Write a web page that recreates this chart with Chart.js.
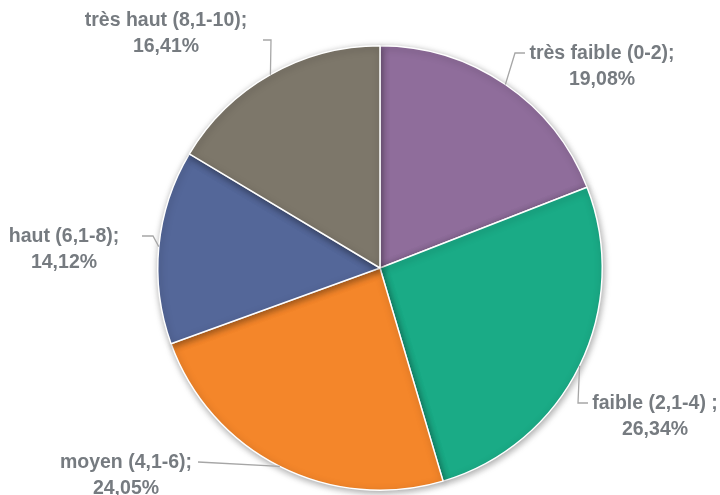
<!DOCTYPE html>
<html>
<head>
<meta charset="utf-8">
<script src="https://cdn.jsdelivr.net/npm/chart.js@4/dist/chart.umd.min.js"></script>
<style>
  html, body { margin: 0; padding: 0; background: #ffffff; }
  #pieChart { display: block; }
</style>
</head>
<body>
<canvas id="pieChart" width="720" height="495"></canvas>
<script>
var categories = ["très faible (0-2);", "faible (2,1-4) ;", "moyen (4,1-6);", "haut (6,1-8);", "très haut (8,1-10);"];
var values = [19.08, 26.34, 24.05, 14.12, 16.41];
var percentLabels = ["19,08%", "26,34%", "24,05%", "14,12%", "16,41%"];
var colors = ["#8f6d9b", "#1aab86", "#f4862a", "#546799", "#7d776a"];

// elbow of each leader line + text centre (relative layout only)
var labelLayout = [
    { elbow: [[515, 53], [525, 53]], text: [602, 54] },
    { elbow: [[578, 403], [588, 403]], text: [655, 404] },
    { elbow: [[198, 462]], text: [126, 463] },
    { elbow: [[153, 236], [142, 236]], text: [64, 237] },
    { elbow: [[271, 40], [263, 40]], text: [166, 21] }
];

var shadowPlugin = {
    id: 'shadow',
    beforeDatasetDraw: function (chart) {
        var ctx = chart.ctx;
        ctx.save();
        ctx.shadowColor = 'rgba(0,0,0,0.35)';
        ctx.shadowBlur = 7;
        ctx.shadowOffsetX = 1;
        ctx.shadowOffsetY = 2;
    },
    afterDatasetDraw: function (chart) {
        chart.ctx.restore();
    }
};

var labelPlugin = {
    id: 'pieLabels',
    afterDatasetsDraw: function (chart) {
        var ctx = chart.ctx;
        var arcs = chart.getDatasetMeta(0).data;
        ctx.save();
        arcs.forEach(function (arc, i) {
            var p = arc.getProps(['x', 'y', 'startAngle', 'endAngle', 'outerRadius'], true);
            var mid = (p.startAngle + p.endAngle) / 2;
            var ex = p.x + Math.cos(mid) * p.outerRadius;
            var ey = p.y + Math.sin(mid) * p.outerRadius;
            var lay = labelLayout[i];
            ctx.strokeStyle = '#a6a6a6';
            ctx.lineWidth = 1.3;
            ctx.beginPath();
            ctx.moveTo(ex, ey);
            lay.elbow.forEach(function (pt) { ctx.lineTo(pt[0], pt[1]); });
            ctx.stroke();

            ctx.fillStyle = '#767b80';
            ctx.font = 'bold 19.5px "Liberation Sans"';
            ctx.textAlign = 'center';
            ctx.textBaseline = 'middle';
            ctx.fillText(categories[i], lay.text[0], lay.text[1]);
            ctx.fillText(percentLabels[i], lay.text[0], lay.text[1] + 26);
        });
        ctx.restore();
    }
};

new Chart(document.getElementById('pieChart'), {
    type: 'pie',
    data: {
        labels: categories,
        datasets: [{
            data: values,
            backgroundColor: colors,
            borderColor: '#ffffff',
            borderWidth: 1.5
        }]
    },
    options: {
        responsive: false,
        animation: false,
        layout: { padding: { top: 45, bottom: 4, left: 100, right: 60 } },
        plugins: {
            legend: { display: false },
            tooltip: { enabled: false }
        }
    },
    plugins: [shadowPlugin, labelPlugin]
});
</script>
</body>
</html>
